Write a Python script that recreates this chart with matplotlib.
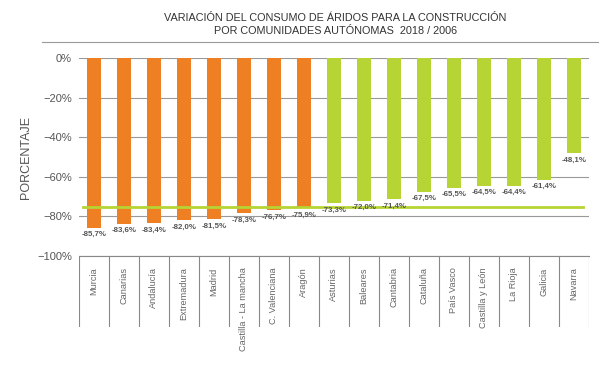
import matplotlib
matplotlib.use("Agg")
import matplotlib.pyplot as plt

plt.rcParams['font.family'] = ['Liberation Sans', 'DejaVu Sans']

comunidades = ['Murcia', 'Canarias', 'Andalucía', 'Extremadura', 'Madrid',
               'Castilla - La mancha', 'C. Valenciana', 'Aragón', 'Asturias',
               'Baleares', 'Cantabria', 'Cataluña', 'País Vasco',
               'Castilla y León', 'La Rioja', 'Galicia', 'Navarra']
variacion = [-85.7, -83.6, -83.4, -82.0, -81.5, -78.3, -76.7, -75.9, -73.3,
             -72.0, -71.4, -67.5, -65.5, -64.5, -64.4, -61.4, -48.1]
media = -75.0
yticks = [0, -20, -40, -60, -80, -100]

naranja = '#EE7F22'
verde = '#B6D433'
gris = '#555555'

fig = plt.figure(figsize=(6.07, 3.66), dpi=100)
ax = fig.add_axes([0.130, 0.3005, 0.840, 0.541])
ax_t = fig.add_axes([0.130, 0.1066, 0.840, 0.1939], sharex=ax)

x = list(range(len(comunidades)))
colores = [naranja if v < media else verde for v in variacion]
ax.bar(x, variacion, width=0.48, color=colores, zorder=3)

ax.plot([-0.35, 16.3], [media, media], color=verde, lw=2, zorder=4)

for xi, v in zip(x, variacion):
    ax.annotate(f"{v:.1f}%".replace('.', ','), (xi, v), xytext=(0, -2.5),
                textcoords='offset points', ha='center', va='top',
                fontsize=5.7, color=gris, fontweight='bold', zorder=5)

ax.set_ylim(-100, 0)
ax.set_xlim(-0.5, len(comunidades) - 0.5)
ax.set_yticks(yticks)
ax.set_yticklabels(['0%'] + [f"\u2212{abs(t)}%" for t in yticks[1:]],
                   fontsize=8, color=gris)
ax.tick_params(axis='y', length=0, pad=5)
ax.tick_params(axis='x', bottom=False, labelbottom=False)
ax.grid(axis='y', color='#999999', lw=0.8, zorder=0)
for s in ax.spines.values():
    s.set_visible(False)
ax.set_ylabel('PORCENTAJE', fontsize=9, color=gris, labelpad=4)

# tabla de categorias
ax_t.set_ylim(0, 1)
for b in range(len(comunidades) + 1):
    ax_t.axvline(b - 0.5, color='#888888', lw=0.8)
for xi, c in zip(x, comunidades):
    ax_t.text(xi, 0.84, c, rotation=90, ha='center', va='top',
              fontsize=6.6, color='#666666')
for s in ['bottom', 'left', 'right']:
    ax_t.spines[s].set_visible(False)
ax_t.spines['top'].set_color('#888888')
ax_t.spines['top'].set_linewidth(0.8)
ax_t.set_yticks([])
ax_t.tick_params(axis='x', bottom=False, labelbottom=False)

fig.text(0.552, 0.951, 'VARIACIÓN DEL CONSUMO DE ÁRIDOS PARA LA CONSTRUCCIÓN',
         ha='center', va='center', fontsize=7.8, color='#333333')
fig.text(0.552, 0.915, 'POR COMUNIDADES AUTÓNOMAS  2018 / 2006',
         ha='center', va='center', fontsize=7.8, color='#333333')
fig.add_artist(plt.Line2D([0.07, 0.985], [0.885, 0.885], color='#999999', lw=0.8))

fig.savefig('out.png', dpi=100)
